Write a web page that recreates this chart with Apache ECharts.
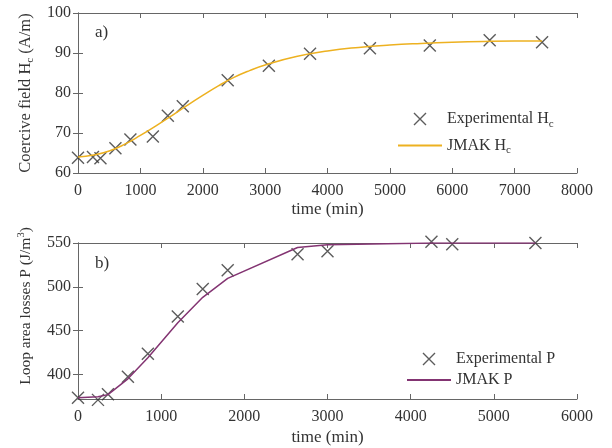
<!DOCTYPE html>
<html><head><meta charset="utf-8">
<script src="https://cdn.jsdelivr.net/npm/echarts@6/dist/echarts.min.js"></script>
<style>html,body{margin:0;padding:0;background:#fff}#c{width:612px;height:448px}</style>
</head><body><div id="c"></div>
<script>
// Panel a) Coercive field
const hcExpTime = [0, 240, 360, 600, 840, 1200, 1440, 1680, 2400, 3060, 3720, 4680, 5640, 6600, 7440];
const hcExpVal  = [63.8, 64.0, 63.7, 66.2, 68.4, 69.1, 74.3, 76.7, 83.2, 86.8, 89.8, 91.2, 91.9, 93.2, 92.7];
const hcFitTime = [0, 250, 500, 750, 1000, 1250, 1500, 1750, 2000, 2250, 2500, 2750, 3000, 3500, 4000, 4500, 5000, 5500, 6000, 6500, 7000, 7440];
const hcFitVal  = [64.0, 64.5, 65.5, 67.2, 69.4, 71.8, 74.3, 76.9, 79.4, 81.8, 83.9, 85.6, 87.0, 89.1, 90.5, 91.4, 92.0, 92.4, 92.7, 92.9, 93.0, 93.0];
const hcXTicks = [0, 1000, 2000, 3000, 4000, 5000, 6000, 7000, 8000];
const hcYTicks = [60, 70, 80, 90, 100];
// Panel b) Loop area losses
const pExpTime = [0, 240, 360, 600, 840, 1200, 1500, 1800, 2640, 3000, 4250, 4500, 5500];
const pExpVal  = [373.5, 371, 377.3, 397.4, 423.5, 466.1, 497.5, 519, 537.2, 540.6, 551.5, 548.5, 550];
const pFitTime = [0, 240, 360, 600, 840, 1200, 1500, 1800, 2640, 3000, 4250, 4500, 5500];
const pFitVal  = [373.5, 374.5, 377, 395, 419, 459, 488, 509.6, 544.8, 548, 550, 550, 550];
const pXTicks = [0, 1000, 2000, 3000, 4000, 5000, 6000];
const pYTicks = [400, 450, 500, 550];

const FONT = 'Liberation Serif';
const AX = '#666';
const TXT = '#333';
const crossPath = 'path://M0,0L10,10M10,0L0,10';
const pairs = (a, b) => a.map((x, i) => [x, b[i]]);
const plain = v => String(v);

const chart = echarts.init(document.getElementById('c'));
const grids = [
  {left: 78, width: 499, top: 13, height: 160},
  {left: 78, width: 499, top: 243, height: 156}
];
function xAxes(gi, max, ticks, gap) {
  return [{
    type: 'value', gridIndex: gi, min: 0, max: max, interval: 1000,
    name: 'time (min)', nameLocation: 'middle', nameGap: gap,
    nameTextStyle: {fontFamily: FONT, fontSize: 17, color: TXT},
    axisLine: {lineStyle: {color: AX, width: 1}},
    axisTick: {inside: true, length: 5, lineStyle: {color: AX}, customValues: ticks},
    axisLabel: {fontFamily: FONT, fontSize: 16, color: TXT, margin: 10, formatter: plain, customValues: ticks},
    splitLine: {show: false}
  }, {
    type: 'value', gridIndex: gi, position: 'top', min: 0, max: max, interval: 1000,
    axisLine: {lineStyle: {color: AX, width: 1}},
    axisTick: {inside: true, length: 5, lineStyle: {color: AX}, customValues: ticks},
    axisLabel: {show: false, customValues: ticks}, splitLine: {show: false}
  }];
}
const yLine = {show: true, lineStyle: {color: AX, width: 1}};
const yTick = ticks => ({show: true, inside: true, length: 5, lineStyle: {color: AX}, customValues: ticks});
const option = {
  animation: false,
  textStyle: {fontFamily: FONT},
  grid: grids,
  xAxis: [...xAxes(0, 8000, hcXTicks, 28), ...xAxes(1, 6000, pXTicks, 30)],
  yAxis: [
    {type: 'value', gridIndex: 0, min: 60, max: 100, interval: 10,
      name: '{n|Coercive field H}{s|c}{n| (A/m)}', nameLocation: 'middle', nameGap: 42,
      nameTextStyle: {color: TXT, rich: {n: {fontFamily: FONT, fontSize: 16.5, color: TXT}, s: {fontFamily: FONT, fontSize: 11, color: TXT, padding: [9, 0, 0, 0]}}},
      axisLine: yLine, axisTick: yTick(hcYTicks), splitLine: {show: false},
      axisLabel: {fontFamily: FONT, fontSize: 16, color: TXT, margin: 7, customValues: hcYTicks}},
    {type: 'value', gridIndex: 0, position: 'right', min: 60, max: 100, interval: 10,
      axisLine: yLine, axisTick: yTick(hcYTicks), splitLine: {show: false},
      axisLabel: {show: false, customValues: hcYTicks}},
    {type: 'value', gridIndex: 1, min: 372, max: 550,
      name: '{n|Loop area losses P (J/m}{s|3}{n|)}', nameLocation: 'middle', nameGap: 42,
      nameTextStyle: {color: TXT, padding: [0, 0, 0, 30], rich: {n: {fontFamily: FONT, fontSize: 15.5, color: TXT}, s: {fontFamily: FONT, fontSize: 10.5, color: TXT, padding: [0, 0, 9, 0]}}},
      axisLine: yLine, axisTick: yTick(pYTicks), splitLine: {show: false},
      axisLabel: {fontFamily: FONT, fontSize: 16, color: TXT, margin: 7, customValues: pYTicks}},
    {type: 'value', gridIndex: 1, position: 'right', min: 372, max: 550,
      axisLine: yLine, axisTick: yTick(pYTicks), splitLine: {show: false},
      axisLabel: {show: false, customValues: pYTicks}}
  ],
  legend: [
    {left: 397, top: 111, padding: 0, orient: 'vertical', itemWidth: 44, itemHeight: 12, itemGap: 8,
      data: [{name: 'Experimental Hc', icon: crossPath, itemStyle: {color: 'transparent', borderColor: '#333', borderWidth: 1.4}},
             {name: 'JMAK Hc', itemStyle: {opacity: 0}}],
      formatter: n => n === 'Experimental Hc' ? '{n|Experimental H}{s|c}' : '{n|JMAK H}{s|c}',
      textStyle: {rich: {n: {fontFamily: FONT, fontSize: 16, color: TXT}, s: {fontFamily: FONT, fontSize: 11, color: TXT, padding: [10, 0, 0, 0]}}}},
    {left: 406, top: 351, padding: 0, orient: 'vertical', itemWidth: 44, itemHeight: 12, itemGap: 5,
      data: [{name: 'Experimental P', icon: crossPath, itemStyle: {color: 'transparent', borderColor: '#333', borderWidth: 1.4}},
             {name: 'JMAK P', itemStyle: {opacity: 0}}],
      textStyle: {fontFamily: FONT, fontSize: 16, color: TXT}}
  ],
  graphic: [
    {type: 'text', left: 95, top: 24, style: {text: 'a)', font: '17px "Liberation Serif"', fill: TXT}},
    {type: 'text', left: 95, top: 255, style: {text: 'b)', font: '17px "Liberation Serif"', fill: TXT}}
  ],
  series: [
    {name: 'JMAK Hc', type: 'line', xAxisIndex: 0, yAxisIndex: 0, data: pairs(hcFitTime, hcFitVal), smooth: 0.5,
      symbol: 'none', lineStyle: {color: '#EDB120', width: 1.5}, itemStyle: {color: '#EDB120'}},
    {name: 'Experimental Hc', type: 'scatter', xAxisIndex: 0, yAxisIndex: 0, data: pairs(hcExpTime, hcExpVal), clip: false,
      symbol: crossPath, symbolSize: 12, itemStyle: {color: 'transparent', borderColor: '#333', borderWidth: 1.4}},
    {name: 'JMAK P', type: 'line', xAxisIndex: 2, yAxisIndex: 2, data: pairs(pFitTime, pFitVal),
      symbol: 'none', lineStyle: {color: '#833472', width: 1.5}, itemStyle: {color: '#833472'}},
    {name: 'Experimental P', type: 'scatter', xAxisIndex: 2, yAxisIndex: 2, data: pairs(pExpTime, pExpVal), clip: false,
      symbol: crossPath, symbolSize: 12, itemStyle: {color: 'transparent', borderColor: '#333', borderWidth: 1.4}}
  ]
};
chart.setOption(option);
</script></body></html>
